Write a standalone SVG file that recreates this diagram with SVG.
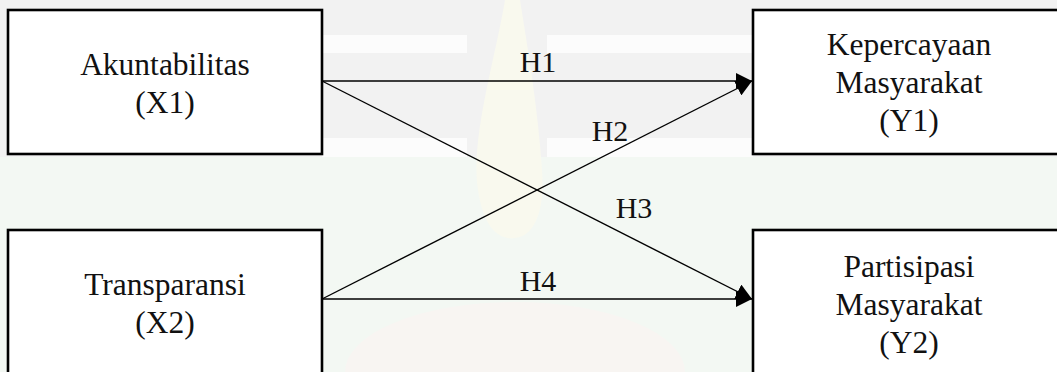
<svg xmlns="http://www.w3.org/2000/svg" width="1057" height="372" viewBox="0 0 1057 372">
  <style>
    .box { fill: #ffffff; stroke: #000000; stroke-width: 2.6; }
    .lbl { font-family: "Liberation Serif", "Times New Roman", serif; font-size: 31.5px; fill: #111111; text-anchor: middle; }
    .hyp { font-family: "Liberation Serif", "Times New Roman", serif; font-size: 30px; fill: #111111; text-anchor: middle; }
    .conn { stroke: #000000; stroke-width: 1.4; fill: none; marker-end: url(#arrow); }
  </style>
  <defs>
    <marker id="arrow" markerUnits="userSpaceOnUse" markerWidth="17" markerHeight="16" refX="16" refY="8" orient="auto">
      <path d="M0,0 L16,8 L0,16 Z" fill="#000000"/>
    </marker>
  </defs>

  <g id="background">
    <rect x="0" y="0" width="1057" height="372" fill="#ffffff"/>
    <rect x="0" y="0" width="1057" height="157" fill="#f2f2f2"/>
    <rect x="322" y="35" width="145" height="18" fill="#fcfcfc"/>
    <rect x="547" y="35" width="206" height="18" fill="#fcfcfc"/>
    <rect x="322" y="138" width="145" height="19" fill="#fcfcfc"/>
    <rect x="547" y="138" width="206" height="19" fill="#fcfcfc"/>
    <rect x="0" y="157" width="1057" height="215" fill="#f3f8f3"/>
    <ellipse cx="515" cy="372" rx="170" ry="70" fill="#f8f5f2"/>
    <path d="M505,0 C495,60 470,140 478,190 C484,230 500,240 515,238 C535,236 545,210 542,170 C538,110 528,50 520,0 Z" fill="#f9f9ee"/>
  </g>

  <g id="connectors">
    <line class="conn" x1="322" y1="81" x2="752" y2="81"/>
    <line class="conn" x1="322" y1="299" x2="752" y2="81"/>
    <line class="conn" x1="322" y1="81" x2="752" y2="299"/>
    <line class="conn" x1="322" y1="299" x2="752" y2="299"/>
    <text class="hyp" x="538" y="72">H1</text>
    <text class="hyp" x="610" y="141">H2</text>
    <text class="hyp" x="634" y="218">H3</text>
    <text class="hyp" x="538" y="291">H4</text>
  </g>

  <g id="node-x1">
    <rect class="box" x="8" y="10" width="314" height="144"/>
    <text class="lbl" x="165" y="75">Akuntabilitas</text>
    <text class="lbl" x="165" y="113">(X1)</text>
  </g>

  <g id="node-y1">
    <rect class="box" x="753" y="10" width="314" height="144"/>
    <text class="lbl" x="909" y="55">Kepercayaan</text>
    <text class="lbl" x="909" y="93">Masyarakat</text>
    <text class="lbl" x="909" y="131">(Y1)</text>
  </g>

  <g id="node-x2">
    <rect class="box" x="8" y="230" width="314" height="150"/>
    <text class="lbl" x="165" y="295">Transparansi</text>
    <text class="lbl" x="165" y="333">(X2)</text>
  </g>

  <g id="node-y2">
    <rect class="box" x="753" y="230" width="314" height="150"/>
    <text class="lbl" x="909" y="277">Partisipasi</text>
    <text class="lbl" x="909" y="315">Masyarakat</text>
    <text class="lbl" x="909" y="353">(Y2)</text>
  </g>
</svg>
